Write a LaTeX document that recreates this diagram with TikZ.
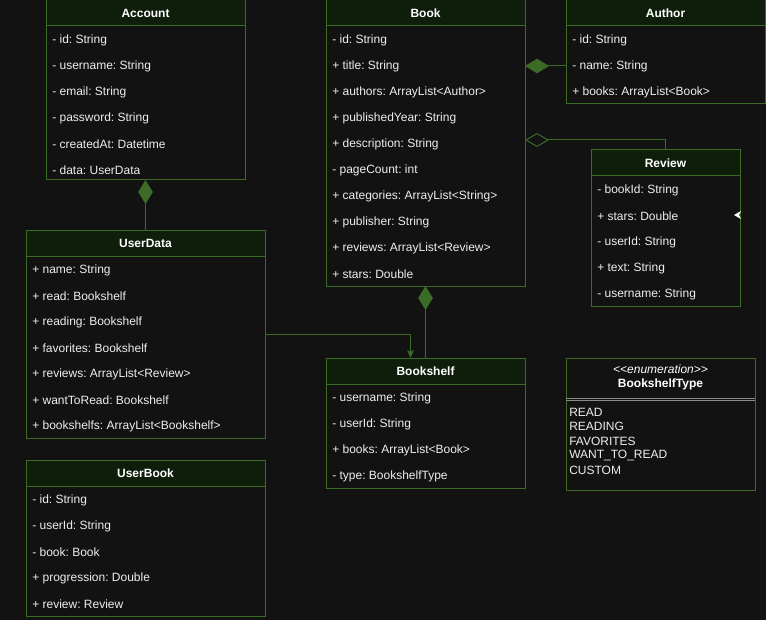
\documentclass[tikz,border=0pt]{standalone}
\usepackage{fontspec}
\setmainfont{Liberation Sans}
\usetikzlibrary{arrows.meta}
\frenchspacing
\definecolor{bg}{HTML}{121212}
\definecolor{hdr}{HTML}{0E1E0B}
\definecolor{grn}{HTML}{3B6B26}
\definecolor{txt}{HTML}{EEEEEE}
\definecolor{sep}{HTML}{8A8A8A}
\newcommand\UClass[6]{%
  \node[box, minimum width=#4*0.75pt, minimum height=#5*0.75pt] (#1) at (#2,#3) {};
  \node[head, minimum width=#4*0.75pt] (#1-h) at (#2,#3) {#6};
}
\newcommand\URows[4]{%
  \foreach \t [count=\i] in {#4} \node[attr] (#1-\i) at (#2+6,#3+14+26*\i) {\t};
}
\begin{document}
\begin{tikzpicture}[x=0.75pt,y=-0.75pt, font=\fontsize{9}{10.8}\selectfont\frenchspacing,
  box/.style={draw=grn, line width=0.75pt, fill=bg, anchor=north west, inner sep=0pt, outer sep=0pt},
  head/.style={draw=grn, line width=0.75pt, fill=hdr, anchor=north west, inner sep=0pt, outer sep=0pt,
    minimum height=19.5pt, text=white, font=\fontsize{9}{10.8}\selectfont\bfseries},
  attr/.style={anchor=west, inner sep=0pt, text=txt},
  comp/.style={draw=grn, line width=0.75pt, -{Diamond[length=18pt,width=11pt,fill=grn]}},
  aggr/.style={draw=grn, line width=0.75pt, -{Diamond[open,length=18pt,width=10.5pt]}},
  assoc/.style={draw=grn, line width=0.75pt, -{Stealth[length=6pt,width=5pt,inset=1.5pt,fill=grn]}},
]
\fill[bg] (0,0) rectangle (766,620);
\useasboundingbox (0,0) rectangle (766,620);

\UClass{acc}{46}{0}{199}{180}{Account}
\URows{acc}{46}{0}{- id: String, - username: String, - email: String, - password: String, - createdAt: Datetime, - data: UserData}

\UClass{ud}{26}{230}{239}{208}{UserData}
\URows{ud}{26}{230}{+ name: String, + read: Bookshelf, + reading: Bookshelf, + favorites: Bookshelf, + reviews: ArrayList<Review>, + wantToRead: Bookshelf, + bookshelfs: ArrayList<Bookshelf>}

\UClass{ub}{26}{460}{239}{156}{UserBook}
\URows{ub}{26}{460}{- id: String, - userId: String, - book: Book, + progression: Double, + review: Review}

\UClass{book}{326}{0}{199}{286}{Book}
\URows{book}{326}{0}{- id: String, + title: String, + authors: ArrayList<Author>, + publishedYear: String, + description: String, - pageCount: int, + categories: ArrayList<String>, + publisher: String, + reviews: ArrayList<Review>, + stars: Double}

\UClass{auth}{566}{0}{199}{104}{Author}
\URows{auth}{566}{0}{- id: String, - name: String, + books: ArrayList<Book>}

\UClass{rev}{591}{150}{149}{156}{Review}
\URows{rev}{591}{150}{- bookId: String, + stars: Double, - userId: String, + text: String, - username: String}

\UClass{bs}{326}{358}{199}{130}{Bookshelf}
\URows{bs}{326}{358}{- username: String, - userId: String, + books: ArrayList<Book>, - type: BookshelfType}

% enumeration
\node[box, minimum width=189*0.75pt, minimum height=132*0.75pt] (enum) at (566,358) {};
\node[attr, anchor=center, text=white, font=\fontsize{9}{10.8}\selectfont\itshape] (enum-st) at (660.5,369) {<\kern0pt<enumeration>\kern0pt>};
\node[attr, anchor=center, text=white, font=\fontsize{9}{10.8}\selectfont\bfseries] (enum-h) at (660.5,384) {BookshelfType};
\draw[sep, line width=0.75pt] (enum.west |- 0,398) -- (enum.east |- 0,398);
\draw[sep, line width=0.75pt] (enum.west |- 0,400.5) -- (enum.east |- 0,400.5);
\foreach \t [count=\i] in {READ, READING, FAVORITES, WANT\_TO\_READ, CUSTOM}
  \node[attr] (enum-\i) at (569,397.5+14.5*\i) {\t};

% connectors
\draw[comp] (ud.north) -- (acc.south);
\draw[comp] (auth.west |- auth-2) -- (book.east |- auth-2);
\coordinate (aggy) at (600,140);
\draw[aggr] (rev.north) |- (book.east |- aggy);
\draw[comp] (bs.north) -- (book.south);
\coordinate (ubk) at (410.5,334);
\draw[assoc] (ud.east |- ubk) -| (bs.north -| ubk);

% stray arrow tip at Review
\fill[white] (734,215) -- (741,211) -- (739,215) -- (741,219) -- cycle;
\end{tikzpicture}
\end{document}
